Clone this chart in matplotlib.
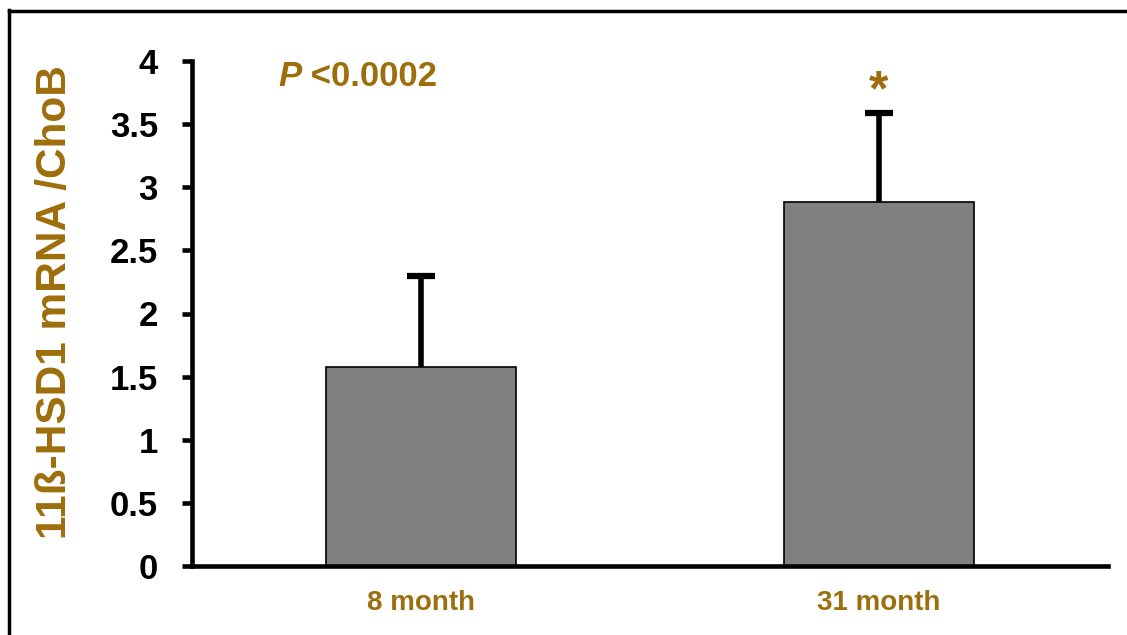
import matplotlib
matplotlib.use("Agg")
import matplotlib.pyplot as plt
from matplotlib.lines import Line2D

categories = ["8 month", "31 month"]
means = [1.58, 2.88]
errors_upper = [0.72, 0.71]
y_ticks = [0, 0.5, 1, 1.5, 2, 2.5, 3, 3.5, 4]
y_tick_labels = ["0", "0.5", "1", "1.5", "2", "2.5", "3", "3.5", "4"]
ylabel = "11ß-HSD1 mRNA /ChoB"
p_text_italic = "P"
p_text_rest = " <0.0002"
star = "*"

brown = "#9E6E0C"
plt.rcParams['font.family'] = ['Liberation Sans', 'DejaVu Sans']
plt.rcParams['font.weight'] = 'bold'

fig = plt.figure(figsize=(11.27, 6.35), dpi=100)
ax = fig.add_axes([192/1127, 1-566/635, (1108-192)/1127, (566-61)/635])

x = list(range(len(categories)))
ax.bar(x, means, width=0.415, color="#808080", edgecolor="black", linewidth=1.2, zorder=2)
tops = [m + e for m, e in zip(means, errors_upper)]
ax.vlines(x, means, tops, color='black', linewidth=4, zorder=3)
cap_half = 0.03
ax.hlines(tops, [xi - cap_half for xi in x], [xi + cap_half for xi in x],
          color='black', linewidth=4.5, zorder=3)

ax.set_xlim(-0.5, 1.5)
ax.set_ylim(0, 4)
ax.set_yticks(y_ticks)
ax.set_yticklabels(y_tick_labels, fontsize=25, fontweight='bold')
ax.set_xticks(x)
ax.set_xticklabels(categories, fontsize=20, fontweight='bold', color=brown)
ax.tick_params(axis='x', length=0, pad=17)
ax.tick_params(axis='y', direction='out', length=7.5, width=3.3, pad=17)

for s in ['top', 'right']:
    ax.spines[s].set_visible(False)
for s in ['left', 'bottom']:
    ax.spines[s].set_linewidth(3.3)

ax.set_ylabel(ylabel, fontsize=30.5, fontweight='bold', color=brown)
ax.yaxis.set_label_coords(-0.128, 0.522)

t1 = ax.annotate(p_text_italic, xy=(278, 635-76), xycoords='figure pixels', fontsize=25,
                 fontstyle='italic', fontweight='bold', color=brown, va='center', ha='left')
fig.canvas.draw()
bb = t1.get_window_extent()
ax.annotate(p_text_rest, xy=(bb.x1, 635-76), xycoords='figure pixels', fontsize=25,
            fontweight='bold', color=brown, va='center', ha='left')

ax.annotate(star, xy=(1, tops[1]), xytext=(0, -2), textcoords='offset points',
            ha='center', va='bottom', fontsize=36, fontweight='bold', color=brown)

# outer frame (top and left edges)
fig.add_artist(Line2D([9/1127, 9/1127], [0, 1-10/635], transform=fig.transFigure, color='black', linewidth=2.5))
fig.add_artist(Line2D([9/1127, 1], [1-11/635, 1-11/635], transform=fig.transFigure, color='black', linewidth=2.5))

fig.savefig("out.png", dpi=100)
